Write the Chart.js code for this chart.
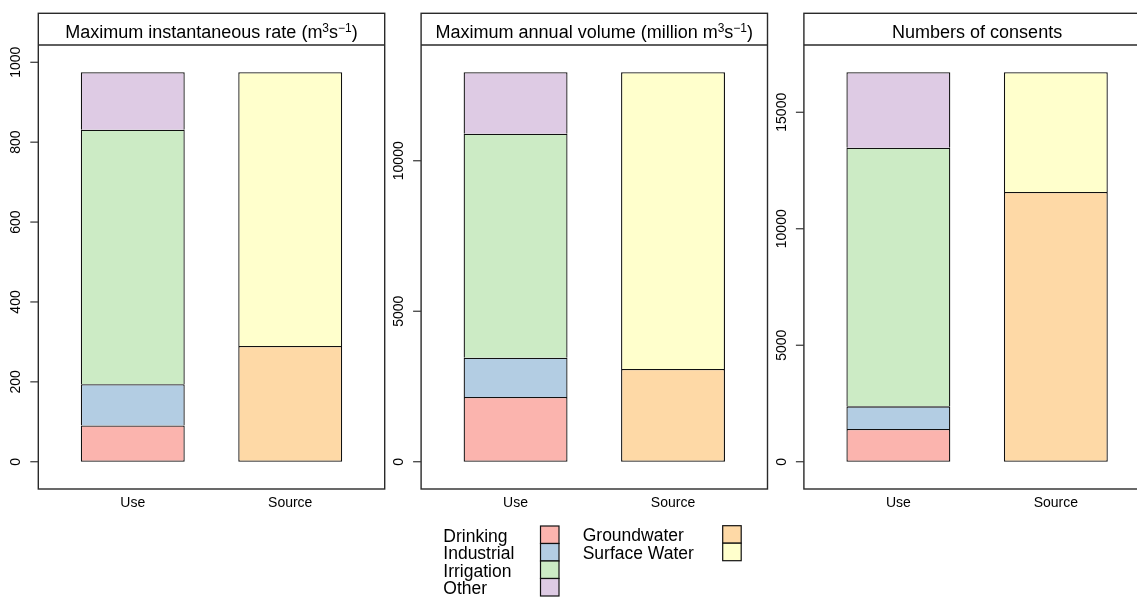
<!DOCTYPE html>
<html><head><meta charset="utf-8">
<script src="https://cdn.jsdelivr.net/npm/chart.js@4/dist/chart.umd.min.js"></script>
<style>
html,body{margin:0;padding:0;background:#fff;width:1137px;height:597px;overflow:hidden}
#wrap{position:relative;width:1137px;height:597px}
canvas{position:absolute;left:0;top:0}
</style></head>
<body><div id="wrap">
<canvas id="c0" width="1137" height="597"></canvas>
<canvas id="c1" width="1137" height="597"></canvas>
<canvas id="c2" width="1137" height="597"></canvas>
</div>
<script>
// ---- data ----
const categories = ['Use', 'Source'];
const useTypes = ['Drinking', 'Industrial', 'Irrigation', 'Other'];
const sourceTypes = ['Groundwater', 'Surface Water'];
const useColors = ['#FBB4AE', '#B3CDE3', '#CCEBC5', '#DECBE4'];
const sourceColors = ['#FED9A6', '#FFFFCC'];

const rateUse = [91, 103, 637, 144];
const rateSource = [290, 685];
const volumeUse = [2150, 1305, 7442, 2043];
const volumeSource = [3080, 9860];
const consentsUse = [1403, 975, 11098, 3241];
const consentsSource = [11575, 5142];

const rateTicks = [0, 200, 400, 600, 800, 1000];
const volumeTicks = [0, 5000, 10000];
const consentsTicks = [0, 5000, 10000, 15000];

// title pieces: [text, superscript?]
const rateTitle = [['Maximum instantaneous rate (m', false], ['3', true], ['s', false], ['\u22121', true], [')', false]];
const volumeTitle = [['Maximum annual volume (million m', false], ['3', true], ['s', false], ['\u22121', true], [')', false]];
const consentsTitle = [['Numbers of consents', false]];

// ---- layout ----
const FONT = '"Liberation Sans", Arial, Helvetica, sans-serif';
const W = 1137, H = 597;
const FRAME_TOP = 13.3, STRIP_BOTTOM = 45, FRAME_BOTTOM = 489;
const FRAME_W = 346.4;
const frameLefts = [38.3, 421.1, 803.9];

function panelPlugin(title, ticks, frameLeft) {
  return {
    id: 'panelFrame',
    afterDraw(chart) {
      const ctx = chart.ctx;
      const ys = chart.scales.y, xs = chart.scales.x;
      ctx.save();
      // frame
      ctx.strokeStyle = '#2a2a2a';
      ctx.lineWidth = 1.4;
      ctx.strokeRect(frameLeft, FRAME_TOP, FRAME_W, FRAME_BOTTOM - FRAME_TOP);
      ctx.beginPath();
      ctx.moveTo(frameLeft, STRIP_BOTTOM);
      ctx.lineTo(frameLeft + FRAME_W, STRIP_BOTTOM);
      ctx.stroke();
      // title
      ctx.fillStyle = '#000';
      ctx.textBaseline = 'alphabetic';
      ctx.textAlign = 'left';
      const big = '18px ' + FONT, small = '12px ' + FONT;
      let total = 0;
      title.forEach(([t, sup]) => { ctx.font = sup ? small : big; total += ctx.measureText(t).width; });
      let tx = frameLeft + FRAME_W / 2 - total / 2;
      title.forEach(([t, sup]) => {
        ctx.font = sup ? small : big;
        ctx.fillText(t, tx, sup ? 31.5 : 38);
        tx += ctx.measureText(t).width;
      });
      // y ticks
      ctx.strokeStyle = '#333';
      ctx.lineWidth = 1.2;
      ctx.font = '14px ' + FONT;
      ctx.textAlign = 'center';
      ctx.textBaseline = 'middle';
      ticks.forEach(v => {
        const py = ys.getPixelForValue(v);
        ctx.beginPath();
        ctx.moveTo(frameLeft - 8, py);
        ctx.lineTo(frameLeft, py);
        ctx.stroke();
        ctx.save();
        ctx.translate(frameLeft - 22, py);
        ctx.rotate(-Math.PI / 2);
        ctx.fillText(String(v), 0, 0);
        ctx.restore();
      });
      // x labels
      categories.forEach((c, i) => {
        ctx.fillText(c, xs.getPixelForValue(i), 503.5);
      });
      ctx.restore();
    }
  };
}

const legendPlugin = {
  id: 'rLegend',
  afterDraw(chart) {
    const ctx = chart.ctx;
    ctx.save();
    ctx.font = '17.5px ' + FONT;
    ctx.fillStyle = '#000';
    ctx.textAlign = 'left';
    ctx.textBaseline = 'middle';
    ctx.strokeStyle = '#111';
    ctx.lineWidth = 1.2;
    const rowH = 17.5;
    const cols = [
      { names: useTypes, colors: useColors, tx: 443.3, bx: 540.5, top: 526 },
      { names: sourceTypes, colors: sourceColors, tx: 582.7, bx: 722.7, top: 525.7 }
    ];
    cols.forEach(col => {
      col.names.forEach((n, i) => {
        const by = col.top + rowH * i;
        ctx.fillStyle = col.colors[i];
        ctx.fillRect(col.bx, by, 18.5, rowH);
        ctx.strokeRect(col.bx, by, 18.5, rowH);
        ctx.fillStyle = '#000';
        ctx.fillText(n, col.tx, by + rowH / 2 + 2.2);
      });
    });
    ctx.restore();
  }
};

function makePanel(id, useVals, sourceVals, ticks, title, frameLeft, extraPlugins) {
  const total = useVals.reduce((a, b) => a + b, 0);
  const unit = FRAME_W / 2.2;
  const areaLeft = frameLeft + 0.1 * unit;
  const areaRight = frameLeft + FRAME_W - 0.1 * unit;
  const datasets = [];
  useTypes.forEach((n, i) => datasets.push({
    label: n, data: [useVals[i], null], backgroundColor: useColors[i], first: i === 0
  }));
  sourceTypes.forEach((n, i) => datasets.push({
    label: n, data: [null, sourceVals[i]], backgroundColor: sourceColors[i], first: i === 0
  }));
  const bw = 1.3;
  datasets.forEach(d => {
    Object.assign(d, {
      borderColor: '#111',
      borderWidth: d.first ? bw : { top: bw, left: bw, right: bw, bottom: 0 },
      borderSkipped: false,
      barPercentage: 0.66, categoryPercentage: 1
    });
    delete d.first;
  });
  return new Chart(document.getElementById(id), {
    type: 'bar',
    data: { labels: categories, datasets },
    options: {
      responsive: false, animation: false, devicePixelRatio: 1,
      layout: { padding: { left: areaLeft, right: W - areaRight, top: STRIP_BOTTOM, bottom: H - FRAME_BOTTOM } },
      plugins: { legend: { display: false }, tooltip: { enabled: false } },
      scales: {
        x: { type: 'category', display: false, stacked: true, offset: true },
        y: { display: false, stacked: true, min: -0.07 * total, max: 1.07 * total }
      }
    },
    plugins: [panelPlugin(title, ticks, frameLeft)].concat(extraPlugins || [])
  });
}

makePanel('c0', rateUse, rateSource, rateTicks, rateTitle, frameLefts[0]);
makePanel('c1', volumeUse, volumeSource, volumeTicks, volumeTitle, frameLefts[1], [legendPlugin]);
makePanel('c2', consentsUse, consentsSource, consentsTicks, consentsTitle, frameLefts[2]);
</script>
</body></html>
